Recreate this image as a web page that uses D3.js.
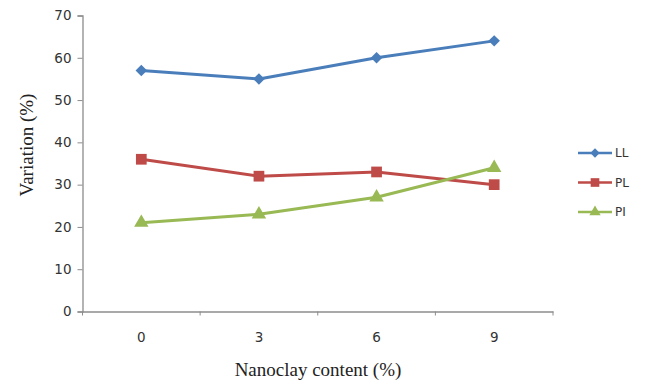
<!DOCTYPE html>
<html>
<head>
<meta charset="utf-8">
<script src="https://cdn.jsdelivr.net/npm/d3@7"></script>
<style>
  html, body { margin: 0; padding: 0; background: #fff; }
  svg { display: block; }
</style>
</head>
<body>
<svg id="chart" width="645" height="382"></svg>
<script>
// Nanoclay content levels (%) and the measured Atterberg limits
const categories = ["0", "3", "6", "9"];
const seriesNames = ["LL", "PL", "PI"];
const llValues = [57, 55, 60, 64];
const plValues = [36, 32, 33, 30];
const piValues = [21, 23, 27, 34];
const yTicks = [0, 10, 20, 30, 40, 50, 60, 70];

// Square diamond: a square turned by 45 degrees
const symbolRhombus = {
  draw(context, size) {
    const r = Math.sqrt(size / 2);
    context.moveTo(0, -r);
    context.lineTo(r, 0);
    context.lineTo(0, r);
    context.lineTo(-r, 0);
    context.closePath();
  }
};

const series = [
  { name: seriesNames[0], values: llValues, color: "#4A7EBB", symbol: symbolRhombus, size: 66, legendSize: 44 },
  { name: seriesNames[1], values: plValues, color: "#BE4B48", symbol: d3.symbolSquare, size: 115, legendSize: 75 },
  { name: seriesNames[2], values: piValues, color: "#98B954", symbol: d3.symbolTriangle, size: 90, legendSize: 55 }
];

const svg = d3.select("#chart");
const plot = { left: 82.5, right: 553, top: 15.5, bottom: 311.5 };

const x = d3.scaleBand().domain(categories).range([plot.left, plot.right]).padding(0);
const y = d3.scaleLinear().domain([0, 70]).range([plot.bottom, plot.top]);

const axisColor = "#8C8C8C";
const tickFont = "'DejaVu Sans', Verdana, sans-serif";

// Y axis
const yAxis = svg.append("g")
  .attr("transform", `translate(${plot.left},0)`)
  .call(d3.axisLeft(y).tickValues(yTicks).tickSize(5).tickPadding(6));
yAxis.select(".domain").attr("stroke", axisColor).attr("stroke-width", 1.3);
yAxis.selectAll(".tick line").attr("stroke", axisColor).attr("stroke-width", 1);
yAxis.selectAll(".tick text")
  .attr("fill", "#333").style("font-family", tickFont).style("font-size", "13.5px");

// X axis: ticks sit between categories
const xAxis = svg.append("g")
  .attr("transform", `translate(0,${plot.bottom})`)
  .call(d3.axisBottom(x).tickSize(0).tickPadding(21));
xAxis.select(".domain").attr("stroke", axisColor).attr("stroke-width", 1.3);
xAxis.selectAll(".tick text")
  .attr("fill", "#333").style("font-family", tickFont).style("font-size", "13.5px");
const boundaries = categories.map(c => x(c)).concat([x(categories[categories.length - 1]) + x.bandwidth()]);
xAxis.selectAll(".bound")
  .data(boundaries)
  .join("line")
  .attr("class", "bound")
  .attr("x1", d => d).attr("x2", d => d)
  .attr("y1", 0).attr("y2", 4)
  .attr("stroke", axisColor).attr("stroke-width", 1);

// Axis titles
svg.append("text")
  .attr("x", 318).attr("y", 376)
  .attr("text-anchor", "middle")
  .style("font-family", "'Liberation Serif', 'Times New Roman', serif")
  .style("font-size", "19px")
  .attr("fill", "#222")
  .text("Nanoclay content (%)");

svg.append("text")
  .attr("transform", "translate(33,145) rotate(-90)")
  .attr("text-anchor", "middle")
  .style("font-family", "'Liberation Serif', 'Times New Roman', serif")
  .style("font-size", "19px")
  .attr("fill", "#222")
  .text("Variation (%)");

// Lines and markers
const cx = c => x(c) + x.bandwidth() / 2;
const line = d3.line().x((d, i) => cx(categories[i])).y(d => y(d));

series.forEach(s => {
  svg.append("path")
    .datum(s.values)
    .attr("d", line)
    .attr("fill", "none")
    .attr("stroke", s.color)
    .attr("stroke-width", 3)
    .attr("stroke-linejoin", "round");
  svg.selectAll(null)
    .data(s.values)
    .join("path")
    .attr("transform", (d, i) => `translate(${cx(categories[i])},${y(d)})`)
    .attr("d", d3.symbol().type(s.symbol).size(s.size))
    .attr("fill", s.color);
});

// Legend
const legend = svg.append("g").attr("transform", "translate(578,153)");
series.forEach((s, i) => {
  const g = legend.append("g").attr("transform", `translate(0,${i * 29.5})`);
  g.append("line").attr("x1", 0).attr("x2", 34).attr("y1", 0).attr("y2", 0)
    .attr("stroke", s.color).attr("stroke-width", 2.5);
  g.append("path").attr("transform", "translate(17,0)")
    .attr("d", d3.symbol().type(s.symbol).size(s.legendSize)).attr("fill", s.color);
  g.append("text").attr("x", 37).attr("y", 0).attr("dy", "0.36em")
    .style("font-family", tickFont).style("font-size", "12px").attr("fill", "#333")
    .text(s.name);
});
</script>
</body>
</html>
